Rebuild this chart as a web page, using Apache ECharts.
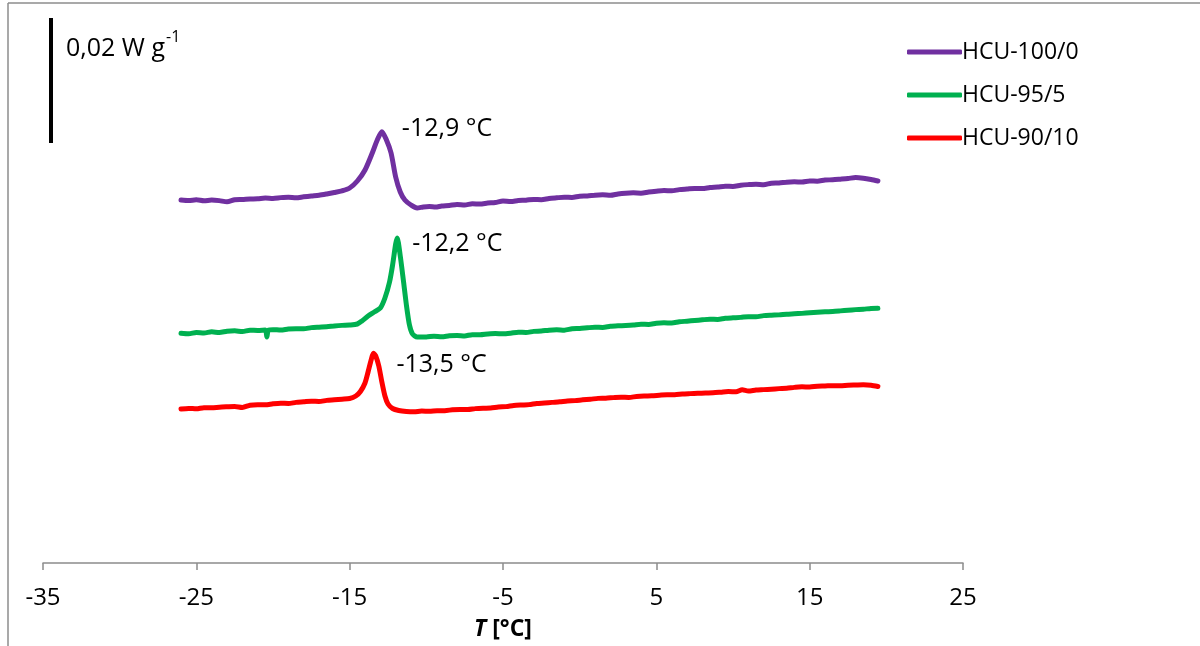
<!DOCTYPE html>
<html>
<head>
<meta charset="utf-8">
<script src="https://cdn.jsdelivr.net/npm/echarts@6/dist/echarts.min.js"></script>
<style>
html,body{margin:0;padding:0;background:#fff;}
#chart{width:1200px;height:646px;}
</style>
</head>
<body>
<div id="chart"></div>
<script>
// ---- Data (heat flow in mW g^-1, curves vertically offset as in the figure) ----
const seriesNames = ['HCU-100/0', 'HCU-95/5', 'HCU-90/10'];
const seriesColors = ['#7030A0', '#00B050', '#FF0000'];
const xTicks = [-35, -25, -15, -5, 5, 15, 25];

const temp100 = [-26.0,-25.5,-25.0,-24.5,-24.0,-23.5,-23.0,-22.5,-22.0,-21.5,-21.0,-20.5,-20.0,-19.5,-19.0,-18.5,-18.0,-17.5,-17.0,-16.5,-16.0,-15.5,-15.0,-14.5,-14.0,-13.5,-13.2,-12.9,-12.6,-12.3,-12.0,-11.7,-11.4,-11.0,-10.6,-10.2,-9.8,-9.4,-9.0,-8.5,-8.0,-7.5,-7.0,-6.5,-6.0,-5.5,-5.0,-4.5,-4.0,-3.5,-3.0,-2.5,-2.0,-1.5,-1.0,-0.5,0.0,0.5,1.0,1.5,2.0,2.5,3.0,3.5,4.0,4.5,5.0,5.5,6.0,6.5,7.0,7.5,8.0,8.5,9.0,9.5,10.0,10.5,11.0,11.5,12.0,12.5,13.0,13.5,14.0,14.5,15.0,15.5,16.0,16.5,17.0,17.5,18.0,18.5,19.0,19.45];
const flow100 = [58.08,58.00,58.11,57.95,58.08,57.98,57.79,58.11,58.16,58.24,58.27,58.40,58.34,58.46,58.53,58.43,58.59,58.72,58.83,59.04,59.28,59.55,60.00,61.12,62.88,65.76,67.68,69.01,67.68,65.60,61.76,59.36,58.08,57.28,56.80,56.96,57.04,56.96,57.12,57.20,57.36,57.28,57.47,57.44,57.60,57.68,57.92,57.84,58.00,58.05,58.18,58.14,58.32,58.43,58.53,58.48,58.69,58.72,58.85,58.91,58.83,59.04,59.17,59.23,59.18,59.36,59.49,59.60,59.55,59.74,59.84,59.94,59.92,60.08,60.16,60.29,60.24,60.43,60.54,60.61,60.54,60.77,60.80,60.93,60.99,60.96,61.12,61.09,61.28,61.31,61.41,61.52,61.68,61.57,61.36,61.12];

const temp95 = [-26.0,-25.5,-25.0,-24.5,-24.0,-23.5,-23.0,-22.5,-22.0,-21.5,-21.0,-20.5,-20.4,-20.3,-20.0,-19.5,-19.0,-18.5,-18.0,-17.5,-17.0,-16.5,-16.0,-15.5,-15.0,-14.5,-14.2,-13.8,-13.4,-13.0,-12.7,-12.4,-12.2,-12.0,-11.9,-11.7,-11.5,-11.3,-11.1,-10.9,-10.6,-10.0,-9.5,-9.0,-8.5,-8.0,-7.5,-7.0,-6.5,-6.0,-5.5,-5.0,-4.5,-4.0,-3.5,-3.0,-2.5,-2.0,-1.5,-1.0,-0.5,0.0,0.5,1.0,1.5,2.0,2.5,3.0,3.5,4.0,4.5,5.0,5.5,6.0,6.5,7.0,7.5,8.0,8.5,9.0,9.5,10.0,10.5,11.0,11.5,12.0,12.5,13.0,13.5,14.0,14.5,15.0,15.5,16.0,16.5,17.0,17.5,18.0,18.5,19.0,19.45];
const flow95 = [36.75,36.67,36.88,36.80,36.99,36.88,37.09,37.15,37.04,37.25,37.20,37.28,36.16,37.28,37.34,37.28,37.44,37.50,37.47,37.66,37.73,37.79,37.92,38.02,38.08,38.24,38.72,39.52,40.16,40.80,42.40,44.96,47.68,51.04,52.00,49.12,45.28,41.28,38.08,36.64,36.16,36.16,36.29,36.19,36.35,36.40,36.34,36.54,36.51,36.64,36.72,36.67,36.77,36.93,36.88,37.06,37.12,37.25,37.31,37.25,37.47,37.52,37.63,37.73,37.70,37.87,37.95,38.00,38.08,38.21,38.18,38.35,38.43,38.40,38.59,38.69,38.80,38.91,39.01,38.96,39.15,39.23,39.30,39.42,39.39,39.58,39.65,39.70,39.81,39.87,39.94,40.03,40.11,40.19,40.24,40.34,40.45,40.54,40.61,40.72,40.75];

const temp90 = [-26.0,-25.5,-25.0,-24.5,-24.0,-23.5,-23.0,-22.5,-22.0,-21.5,-21.0,-20.5,-20.0,-19.5,-19.0,-18.5,-18.0,-17.5,-17.0,-16.5,-16.0,-15.5,-15.0,-14.6,-14.3,-14.0,-13.8,-13.6,-13.45,-13.3,-13.1,-12.9,-12.7,-12.5,-12.2,-11.8,-11.3,-10.8,-10.3,-9.8,-9.3,-8.8,-8.3,-7.8,-7.3,-6.8,-6.3,-5.8,-5.3,-4.8,-4.3,-3.8,-3.3,-2.8,-2.3,-1.8,-1.3,-0.8,-0.3,0.2,0.7,1.2,1.7,2.2,2.7,3.2,3.7,4.2,4.7,5.2,5.7,6.2,6.7,7.2,7.7,8.2,8.7,9.2,9.7,10.2,10.6,11.0,11.5,12.0,12.5,13.0,13.5,14.0,14.5,15.0,15.5,16.0,16.5,17.0,17.5,18.0,18.5,19.0,19.45];
const flow90 = [24.64,24.74,24.67,24.86,24.83,24.93,24.99,25.04,24.88,25.25,25.34,25.31,25.47,25.57,25.52,25.70,25.79,25.89,25.84,26.02,26.11,26.21,26.32,26.72,27.44,28.80,30.56,32.48,33.55,33.12,31.52,28.96,26.72,25.44,24.72,24.40,24.24,24.19,24.32,24.27,24.38,24.38,24.51,24.58,24.56,24.70,24.77,24.80,24.96,25.02,25.20,25.28,25.34,25.52,25.60,25.70,25.79,25.92,25.98,26.11,26.21,26.34,26.37,26.46,26.53,26.50,26.64,26.72,26.75,26.85,26.94,26.91,27.04,27.10,27.15,27.20,27.23,27.33,27.44,27.39,27.71,27.52,27.68,27.74,27.81,27.90,27.97,28.10,28.19,28.16,28.29,28.32,28.38,28.35,28.45,28.48,28.51,28.45,28.24];

// Peak annotations
const peakTemps = [-12.9, -11.9, -13.45];
const peakFlows = [69.01, 52.00, 33.55];
const peakLabels = ['-12,9 °C', '-12,2 °C', '-13,5 °C'];

// Scale bar: 20 mW g^-1 = 0,02 W g^-1
const scaleBarTemp = -34.48;
const scaleBarFlows = [67.2, 87.2];
const scaleBarLabel = '0,02 W g';

// ---- Chart ----
const FONT = '"Open Sans", sans-serif';
const zip = (xs, ys) => xs.map((x, i) => [x, ys[i]]);
const temps = [temp100, temp95, temp90];
const flows = [flow100, flow95, flow90];
const labelOffsets = [[15, -3], [10, 6], [18, 12]];

const lineSeries = seriesNames.map((name, i) => ({
  name: name,
  type: 'line',
  data: zip(temps[i], flows[i]),
  showSymbol: false,
  smooth: 0.25,
  color: seriesColors[i],
  lineStyle: { width: 5, color: seriesColors[i], cap: 'round', join: 'round' },
  z: 3
}));

const chart = echarts.init(document.getElementById('chart'), null, { renderer: 'canvas' });
chart.setOption({
  animation: false,
  backgroundColor: '#ffffff',
  textStyle: { fontFamily: FONT },
  grid: { left: 43, right: 237, top: 13, bottom: 83, containLabel: false },
  legend: {
    data: seriesNames,
    orient: 'vertical',
    left: 902,
    top: 34,
    itemWidth: 55,
    itemHeight: 5,
    itemGap: 17,
    icon: 'roundRect',
    textStyle: { fontFamily: FONT, fontSize: 23, color: '#000', lineHeight: 26, padding: [0, 0, 0, -5] }
  },
  xAxis: {
    type: 'value',
    min: -35,
    max: 25,
    interval: 5,
    name: '{it|T} [°C]',
    nameLocation: 'middle',
    nameGap: 55,
    nameTextStyle: {
      fontFamily: FONT, fontSize: 23, fontWeight: 'bold', color: '#000',
      rich: { it: { fontFamily: FONT, fontSize: 23, fontWeight: 'bold', fontStyle: 'italic', color: '#000' } }
    },
    axisLine: { show: true, onZero: false, lineStyle: { color: '#8c8c8c', width: 1.5 } },
    axisTick: { show: true, length: 7, customValues: xTicks, lineStyle: { color: '#8c8c8c', width: 1.5 } },
    axisLabel: { customValues: xTicks, fontFamily: FONT, fontSize: 24, color: '#000', margin: 23 },
    splitLine: { show: false }
  },
  yAxis: {
    type: 'value',
    min: 0,
    max: 88,
    show: false,
    splitLine: { show: false }
  },
  series: lineSeries.concat([
    {
      name: 'scale',
      type: 'line',
      data: [[scaleBarTemp, scaleBarFlows[0]], [scaleBarTemp, scaleBarFlows[1]]],
      showSymbol: false,
      clip: false,
      lineStyle: { width: 4, color: '#000', cap: 'butt' },
      silent: true,
      z: 4
    },
    {
      name: 'peaks',
      type: 'scatter',
      symbolSize: 0,
      clip: false,
      itemStyle: { opacity: 1 },
      data: peakTemps.map((t, i) => ({
        value: [t, peakFlows[i]],
        label: {
          show: true,
          position: 'right',
          offset: labelOffsets[i],
          formatter: peakLabels[i],
          fontFamily: FONT,
          fontSize: 25,
          color: '#000',
          opacity: 1
        }
      })),
      silent: true,
      z: 5
    }
  ]),
  graphic: [
    { type: 'line', shape: { x1: 8, y1: 3, x2: 1200, y2: 3 }, style: { stroke: '#8c8c8c', lineWidth: 1.5 }, silent: true },
    { type: 'line', shape: { x1: 8, y1: 3, x2: 8, y2: 646 }, style: { stroke: '#8c8c8c', lineWidth: 1.5 }, silent: true },
    {
      type: 'text',
      left: 66,
      top: 29,
      style: {
        text: '{n|' + scaleBarLabel + '}{s|-1}',
        rich: {
          n: { fontFamily: FONT, fontSize: 25, fill: '#000', lineHeight: 32, verticalAlign: 'bottom' },
          s: { fontFamily: FONT, fontSize: 16, fill: '#000', lineHeight: 32, verticalAlign: 'top', padding: [0, 0, 0, 1] }
        }
      },
      silent: true
    }
  ]
});
</script>
</body>
</html>
